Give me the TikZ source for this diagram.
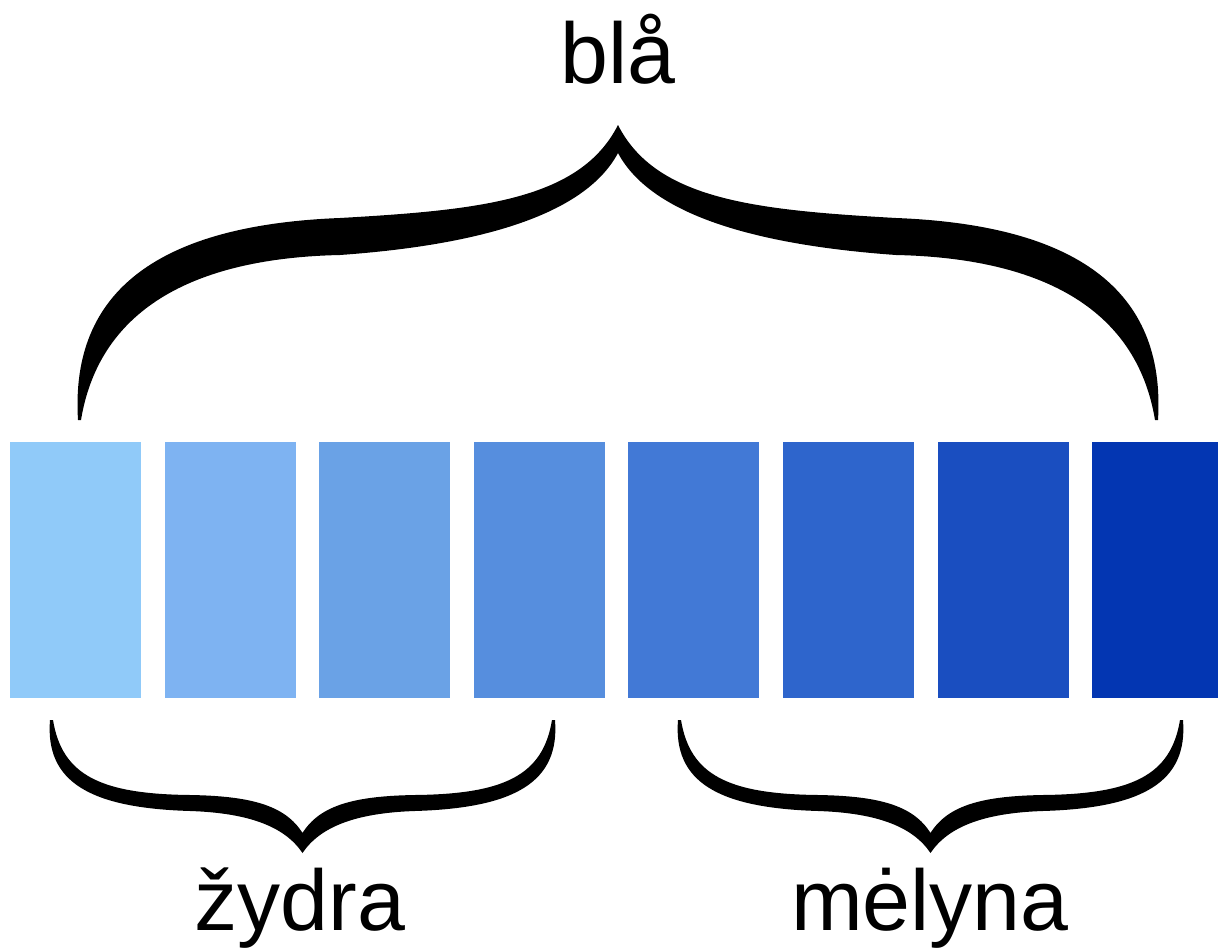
\documentclass[tikz,border=0pt]{standalone}
\usepackage{fontspec}
\setmainfont{Liberation Sans}
\newlength{\du}
\setlength{\du}{1mm}

\begin{document}
\begin{tikzpicture}[even odd rule]
\pgftransformxscale{1.000000}
\pgftransformyscale{-1.000000}
\useasboundingbox (0\du,0\du) rectangle (121.8\du,95.0\du);
\definecolor{dialinecolor}{rgb}{0.000000, 0.000000, 0.000000}
\pgfsetstrokecolor{dialinecolor}
\pgfsetstrokeopacity{1.000000}
\pgfsetfillopacity{1.000000}
% shades of blue
\definecolor{diafillcolor}{rgb}{0.564706, 0.792157, 0.976471}
\pgfsetfillcolor{diafillcolor}
\fill (1.000000\du,44.200000\du)--(14.100000\du,44.200000\du)--(14.100000\du,69.800000\du)--(1.000000\du,69.800000\du)--cycle;
\definecolor{diafillcolor}{rgb}{0.494118, 0.701961, 0.949020}
\pgfsetfillcolor{diafillcolor}
\fill (16.460000\du,44.200000\du)--(29.560000\du,44.200000\du)--(29.560000\du,69.800000\du)--(16.460000\du,69.800000\du)--cycle;
\definecolor{diafillcolor}{rgb}{0.415686, 0.635294, 0.901961}
\pgfsetfillcolor{diafillcolor}
\fill (31.920000\du,44.200000\du)--(45.020000\du,44.200000\du)--(45.020000\du,69.800000\du)--(31.920000\du,69.800000\du)--cycle;
\definecolor{diafillcolor}{rgb}{0.337255, 0.556863, 0.870588}
\pgfsetfillcolor{diafillcolor}
\fill (47.380000\du,44.200000\du)--(60.480000\du,44.200000\du)--(60.480000\du,69.800000\du)--(47.380000\du,69.800000\du)--cycle;
\definecolor{diafillcolor}{rgb}{0.258824, 0.474510, 0.839216}
\pgfsetfillcolor{diafillcolor}
\fill (62.840000\du,44.200000\du)--(75.940000\du,44.200000\du)--(75.940000\du,69.800000\du)--(62.840000\du,69.800000\du)--cycle;
\definecolor{diafillcolor}{rgb}{0.180392, 0.396078, 0.800000}
\pgfsetfillcolor{diafillcolor}
\fill (78.300000\du,44.200000\du)--(91.400000\du,44.200000\du)--(91.400000\du,69.800000\du)--(78.300000\du,69.800000\du)--cycle;
\definecolor{diafillcolor}{rgb}{0.101961, 0.305882, 0.752941}
\pgfsetfillcolor{diafillcolor}
\fill (93.760000\du,44.200000\du)--(106.860000\du,44.200000\du)--(106.860000\du,69.800000\du)--(93.760000\du,69.800000\du)--cycle;
\definecolor{diafillcolor}{rgb}{0.011765, 0.211765, 0.698039}
\pgfsetfillcolor{diafillcolor}
\fill (109.220000\du,44.200000\du)--(121.800000\du,44.200000\du)--(121.800000\du,69.800000\du)--(109.220000\du,69.800000\du)--cycle;
% big brace
\definecolor{diafillcolor}{rgb}{0.000000, 0.000000, 0.000000}
\pgfsetfillcolor{diafillcolor}
\pgfpathmoveto{\pgfpoint{7.800000\du}{42.000000\du}}
\pgfpathcurveto{\pgfpoint{7.000000\du}{29.000000\du}}{\pgfpoint{16.000000\du}{22.500000\du}}{\pgfpoint{34.000000\du}{21.800000\du}}
\pgfpathcurveto{\pgfpoint{48.000000\du}{21.000000\du}}{\pgfpoint{58.000000\du}{20.000000\du}}{\pgfpoint{61.800000\du}{12.500000\du}}
\pgfpathcurveto{\pgfpoint{65.600000\du}{20.000000\du}}{\pgfpoint{75.600000\du}{21.000000\du}}{\pgfpoint{89.600000\du}{21.800000\du}}
\pgfpathcurveto{\pgfpoint{107.600000\du}{22.500000\du}}{\pgfpoint{116.600000\du}{29.000000\du}}{\pgfpoint{115.800000\du}{42.000000\du}}
\pgfpathlineto{\pgfpoint{115.500000\du}{42.000000\du}}
\pgfpathcurveto{\pgfpoint{113.600000\du}{30.500000\du}}{\pgfpoint{103.600000\du}{25.800000\du}}{\pgfpoint{89.600000\du}{25.500000\du}}
\pgfpathcurveto{\pgfpoint{75.600000\du}{24.500000\du}}{\pgfpoint{65.100000\du}{21.500000\du}}{\pgfpoint{61.800000\du}{15.300000\du}}
\pgfpathcurveto{\pgfpoint{58.500000\du}{21.500000\du}}{\pgfpoint{48.000000\du}{24.500000\du}}{\pgfpoint{34.000000\du}{25.500000\du}}
\pgfpathcurveto{\pgfpoint{20.000000\du}{25.800000\du}}{\pgfpoint{10.000000\du}{30.500000\du}}{\pgfpoint{8.100000\du}{42.000000\du}}
\pgfpathclose
\pgfusepath{fill}
% left brace
\pgfpathmoveto{\pgfpoint{5.000000\du}{72.000000\du}}
\pgfpathcurveto{\pgfpoint{4.500000\du}{78.200000\du}}{\pgfpoint{9.000000\du}{80.800000\du}}{\pgfpoint{19.000000\du}{81.100000\du}}
\pgfpathcurveto{\pgfpoint{25.000000\du}{81.300000\du}}{\pgfpoint{28.500000\du}{82.700000\du}}{\pgfpoint{30.250000\du}{85.300000\du}}
\pgfpathcurveto{\pgfpoint{32.000000\du}{82.700000\du}}{\pgfpoint{35.500000\du}{81.300000\du}}{\pgfpoint{41.500000\du}{81.100000\du}}
\pgfpathcurveto{\pgfpoint{51.500000\du}{80.800000\du}}{\pgfpoint{56.000000\du}{78.200000\du}}{\pgfpoint{55.500000\du}{72.000000\du}}
\pgfpathlineto{\pgfpoint{55.200000\du}{72.000000\du}}
\pgfpathcurveto{\pgfpoint{54.300000\du}{77.500000\du}}{\pgfpoint{50.500000\du}{79.400000\du}}{\pgfpoint{41.500000\du}{79.500000\du}}
\pgfpathcurveto{\pgfpoint{35.500000\du}{79.600000\du}}{\pgfpoint{32.000000\du}{80.500000\du}}{\pgfpoint{30.250000\du}{83.300000\du}}
\pgfpathcurveto{\pgfpoint{28.500000\du}{80.500000\du}}{\pgfpoint{25.000000\du}{79.600000\du}}{\pgfpoint{19.000000\du}{79.500000\du}}
\pgfpathcurveto{\pgfpoint{10.000000\du}{79.400000\du}}{\pgfpoint{6.200000\du}{77.500000\du}}{\pgfpoint{5.300000\du}{72.000000\du}}
\pgfpathclose
\pgfusepath{fill}
% right brace
\pgfpathmoveto{\pgfpoint{67.800000\du}{72.000000\du}}
\pgfpathcurveto{\pgfpoint{67.300000\du}{78.200000\du}}{\pgfpoint{71.800000\du}{80.800000\du}}{\pgfpoint{81.800000\du}{81.100000\du}}
\pgfpathcurveto{\pgfpoint{87.800000\du}{81.300000\du}}{\pgfpoint{91.300000\du}{82.700000\du}}{\pgfpoint{93.050000\du}{85.300000\du}}
\pgfpathcurveto{\pgfpoint{94.800000\du}{82.700000\du}}{\pgfpoint{98.300000\du}{81.300000\du}}{\pgfpoint{104.300000\du}{81.100000\du}}
\pgfpathcurveto{\pgfpoint{114.300000\du}{80.800000\du}}{\pgfpoint{118.800000\du}{78.200000\du}}{\pgfpoint{118.300000\du}{72.000000\du}}
\pgfpathlineto{\pgfpoint{118.000000\du}{72.000000\du}}
\pgfpathcurveto{\pgfpoint{117.100000\du}{77.500000\du}}{\pgfpoint{113.300000\du}{79.400000\du}}{\pgfpoint{104.300000\du}{79.500000\du}}
\pgfpathcurveto{\pgfpoint{98.300000\du}{79.600000\du}}{\pgfpoint{94.800000\du}{80.500000\du}}{\pgfpoint{93.050000\du}{83.300000\du}}
\pgfpathcurveto{\pgfpoint{91.300000\du}{80.500000\du}}{\pgfpoint{87.800000\du}{79.600000\du}}{\pgfpoint{81.800000\du}{79.500000\du}}
\pgfpathcurveto{\pgfpoint{72.800000\du}{79.400000\du}}{\pgfpoint{69.000000\du}{77.500000\du}}{\pgfpoint{68.100000\du}{72.000000\du}}
\pgfpathclose
\pgfusepath{fill}
% setfont left to latex
\node[anchor=base,inner sep=0pt,outer sep=0pt,color=dialinecolor,font=\fontsize{24.5}{29}\selectfont] (bla) at (61.800000\du,8.300000\du){blå};
\node[anchor=base,inner sep=0pt,outer sep=0pt,color=dialinecolor,font=\fontsize{24.5}{29}\selectfont] (zydra) at (30.000000\du,93.000000\du){žydra};
\node[anchor=base,inner sep=0pt,outer sep=0pt,color=dialinecolor,font=\fontsize{24.5}{29}\selectfont] (melyna) at (93.000000\du,93.000000\du){mėlyna};
\end{tikzpicture}
\end{document}
